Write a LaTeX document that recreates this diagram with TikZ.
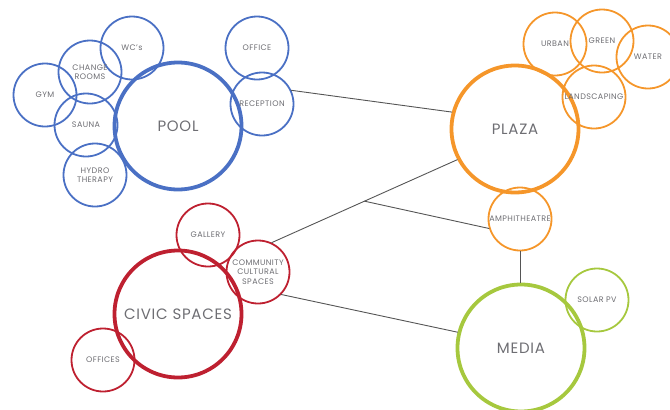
\documentclass[tikz,border=0pt]{standalone}
\usepackage{fontspec}
\setmainfont{Poppins}
\usepackage{tikz}
\definecolor{poolblue}{RGB}{74,112,196}
\definecolor{plazaorange}{RGB}{245,150,42}
\definecolor{civicred}{RGB}{190,32,48}
\definecolor{mediagreen}{RGB}{166,200,62}
\definecolor{labelgray}{RGB}{110,110,115}
\definecolor{linkgray}{RGB}{85,85,85}
\begin{document}
\begin{tikzpicture}[line cap=round,line join=round,x=1pt,y=-1pt,
  big/.style={circle,draw,line width=3.8pt,minimum size=127pt,inner sep=0pt,
    text=labelgray,font=\fontsize{15}{17}\selectfont\addfontfeatures{LetterSpace=5}},
  small/.style={circle,draw,line width=1.8pt,minimum size=63pt,inner sep=0pt},
  tag/.style={text=labelgray,font=\fontsize{8}{9.5}\selectfont\addfontfeatures{LetterSpace=5},align=center,inner sep=0pt},
  link/.style={draw=linkgray,line width=0.9pt}]
\useasboundingbox (0,0) rectangle (670,410);
% pool cluster
\node[big,draw=poolblue] (pool) at (178,126) {POOL};
\node[small,draw=poolblue,label={[tag]center:WC's}] (wc) at (132,48) {};
\node[small,draw=poolblue,label={[tag]center:CHANGE\\ROOMS}] (change) at (90,72) {};
\node[small,draw=poolblue,label={[tag]center:GYM}] (gym) at (45,95) {};
\node[small,draw=poolblue,label={[tag]center:SAUNA}] (sauna) at (86,125) {};
\node[small,draw=poolblue,label={[tag]center:HYDRO\\THERAPY}] (hydro) at (95,175) {};
\node[small,draw=poolblue,label={[tag]center:OFFICE}] (office) at (257,48) {};
\node[small,draw=poolblue,label={[tag]center:RECEPTION}] (recep) at (262,104) {};
% plaza cluster
\node[big,draw=plazaorange] (plaza) at (515,129) {PLAZA};
\node[small,draw=plazaorange,label={[tag]center:URBAN}] (urban) at (555,44) {};
\node[small,draw=plazaorange,label={[tag]center:GREEN}] (green) at (602,41) {};
\node[small,draw=plazaorange,label={[tag]center:WATER}] (water) at (648,57) {};
\node[small,draw=plazaorange,label={[tag]center:LANDSCAPING}] (landsc) at (594,97) {};
\node[small,draw=plazaorange,label={[tag]center:AMPHITHEATRE}] (amphi) at (520,219) {};
% civic cluster
\node[big,draw=civicred] (civic) at (178,314) {CIVIC SPACES};
\node[small,draw=civicred,label={[tag]center:GALLERY}] (gallery) at (208,235) {};
\node[small,draw=civicred,label={[tag]center:COMMUNITY\\CULTURAL\\SPACES}] (comm) at (258,272) {};
\node[small,draw=civicred,label={[tag]center:OFFICES}] (offices) at (103,360) {};
% media cluster
\node[big,draw=mediagreen] (media) at (521,348) {MEDIA};
\node[small,draw=mediagreen,label={[tag]center:SOLAR PV}] (solar) at (597,300) {};
% links
\draw[link] (recep.25) -- (plaza.165);
\draw[link] (comm.65) -- coordinate[pos=0.5] (fork) (plaza.208);
\draw[link] (fork) -- (amphi.197);
\draw[link] (comm.-44) -- (media.166);
\draw[link] (amphi.south) -- (amphi.south |- media.north);
\end{tikzpicture}
\end{document}
